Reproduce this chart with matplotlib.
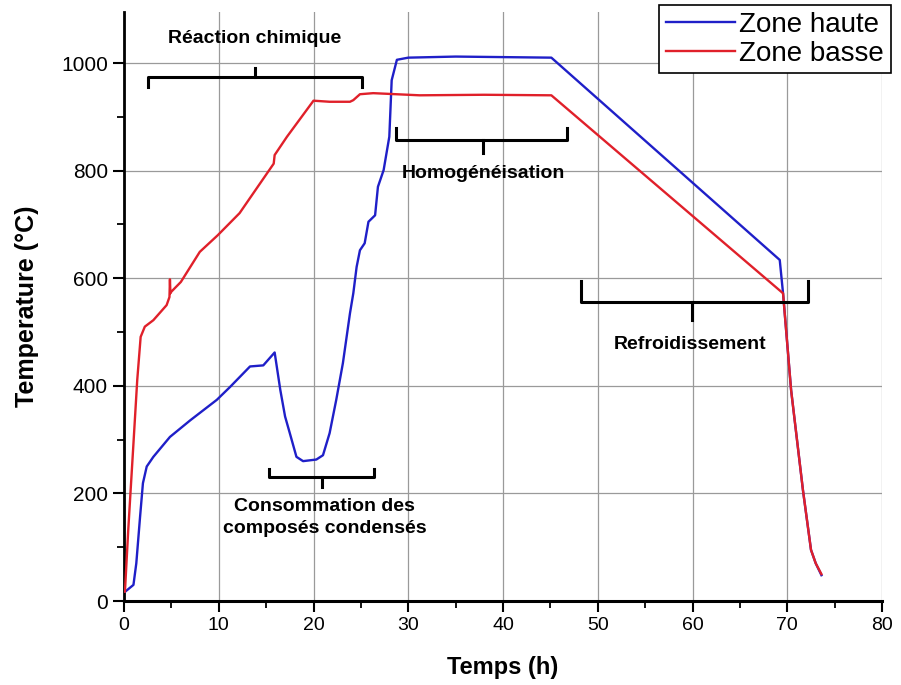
import matplotlib
matplotlib.use('Agg')
import matplotlib.pyplot as plt

plt.rcParams['font.family'] = ['Liberation Sans', 'DejaVu Sans']

# Zone haute (blue)
t_haute = [0.0, 0.1, 1.0, 1.3, 1.7, 2.0, 2.4, 3.1, 4.85, 7.0, 9.8, 11.2, 13.3, 14.7, 15.9,
           16.5, 17.0, 17.5, 18.2, 18.9, 20.3, 21.0, 21.7, 22.4, 23.1, 23.85, 24.2, 24.55,
           24.9, 25.4, 25.8, 26.5, 26.8, 27.4, 27.7, 28.0, 28.25, 28.8, 30.0, 35.0, 40.0,
           45.1, 69.2, 69.55, 70.4, 71.65, 72.5, 73.0, 73.6]
T_haute = [20, 17, 30, 70, 157, 219, 250, 268, 305, 336, 374, 398, 436, 438, 462,
           392, 343, 312, 268, 260, 263, 271, 312, 374, 442, 535, 572, 621,
           652, 665, 705, 717, 770, 801, 832, 863, 968, 1006, 1010, 1012, 1011,
           1010, 634, 572, 392, 206, 95, 70, 48]

# Zone basse (red)
t_basse = [0.0, 0.1, 0.45, 0.98, 1.4, 1.76, 2.2, 3.1, 4.5, 4.8, 4.85, 4.9, 5.0, 6.0, 8.0,
           9.9, 12.2, 15.8, 15.9, 17.2, 20.0, 21.7, 23.85, 24.2, 24.9, 26.3, 31.2, 38.0,
           45.1, 69.55, 70.4, 71.65, 72.5, 73.0, 73.6]
T_basse = [20, 17, 132, 287, 411, 491, 510, 522, 550, 565, 598, 572, 575, 593, 649,
           680, 721, 813, 829, 863, 930, 928, 928, 931, 942, 944, 940, 941,
           940, 572, 392, 206, 95, 70, 50]

# bracket annotations: (x start, x end, line y, hook y, tip x, tip y)
brackets = [(2.5, 25.1, 974, 955, 13.8, 990),
            (28.7, 46.8, 857, 879, 37.9, 833),
            (48.2, 72.2, 556, 594, 59.9, 522),
            (15.3, 26.4, 230, 245, 20.9, 212)]
labels = ['Réaction chimique', 'Homogénéisation', 'Refroidissement',
          'Consommation des\ncomposés condensés']
label_pos = [(13.8, 1046), (37.9, 795), (59.7, 476), (21.2, 155)]

fig = plt.figure(figsize=(9.01, 6.85), dpi=100)
ax = fig.add_axes([0.1376, 0.1226, 0.8414, 0.86])

ax.plot(t_haute, T_haute, color='#1f1fc8', lw=1.7, label='Zone haute', zorder=3)
ax.plot(t_basse, T_basse, color='#e0202a', lw=1.7, label='Zone basse', zorder=3)

for (x0, x1, y, yh, xt, yt) in brackets:
    ax.plot([x0, x0, x1, x1], [yh, y, y, yh], color='black', lw=2.2,
            solid_joinstyle='round', zorder=4)
    ax.plot([xt, xt], [y, yt], color='black', lw=2.2, zorder=4)

for txt, (x, y) in zip(labels, label_pos):
    ax.text(x, y, txt, ha='center', va='center', fontsize=14, fontweight='bold',
            linespacing=1.4, zorder=5)

ax.set_xlim(0, 80)
ax.set_ylim(0, 1095)
ax.set_xticks(range(0, 81, 10))
ax.set_xticks(range(5, 80, 10), minor=True)
ax.set_yticks(range(0, 1001, 200))
ax.set_yticks(range(100, 1001, 200), minor=True)
ax.grid(True, which='major', color='#9a9a9a', lw=0.9)
ax.tick_params(which='major', direction='out', length=8, width=1.5)
ax.tick_params(axis='x', which='major', labelsize=14)
ax.tick_params(axis='y', which='major', labelsize=15)
ax.tick_params(which='minor', direction='out', length=5, width=1.3)
ax.spines['top'].set_visible(False)
ax.spines['right'].set_visible(False)
ax.spines['left'].set_linewidth(2)
ax.spines['bottom'].set_linewidth(2.2)

ax.set_xlabel('Temps (h)', fontsize=17, fontweight='bold', labelpad=16)
ax.set_ylabel('Temperature (°C)', fontsize=18, fontweight='bold', labelpad=16)

leg = ax.legend(loc='upper right', bbox_to_anchor=(0.989, 0.993),
                bbox_transform=fig.transFigure, fontsize=20, frameon=True,
                fancybox=False, edgecolor='black', framealpha=1,
                handlelength=2.5, handletextpad=0.15, borderpad=0.25,
                labelspacing=0.1, borderaxespad=0)
leg.get_frame().set_linewidth(1.2)

fig.savefig('out.png', dpi=100)
